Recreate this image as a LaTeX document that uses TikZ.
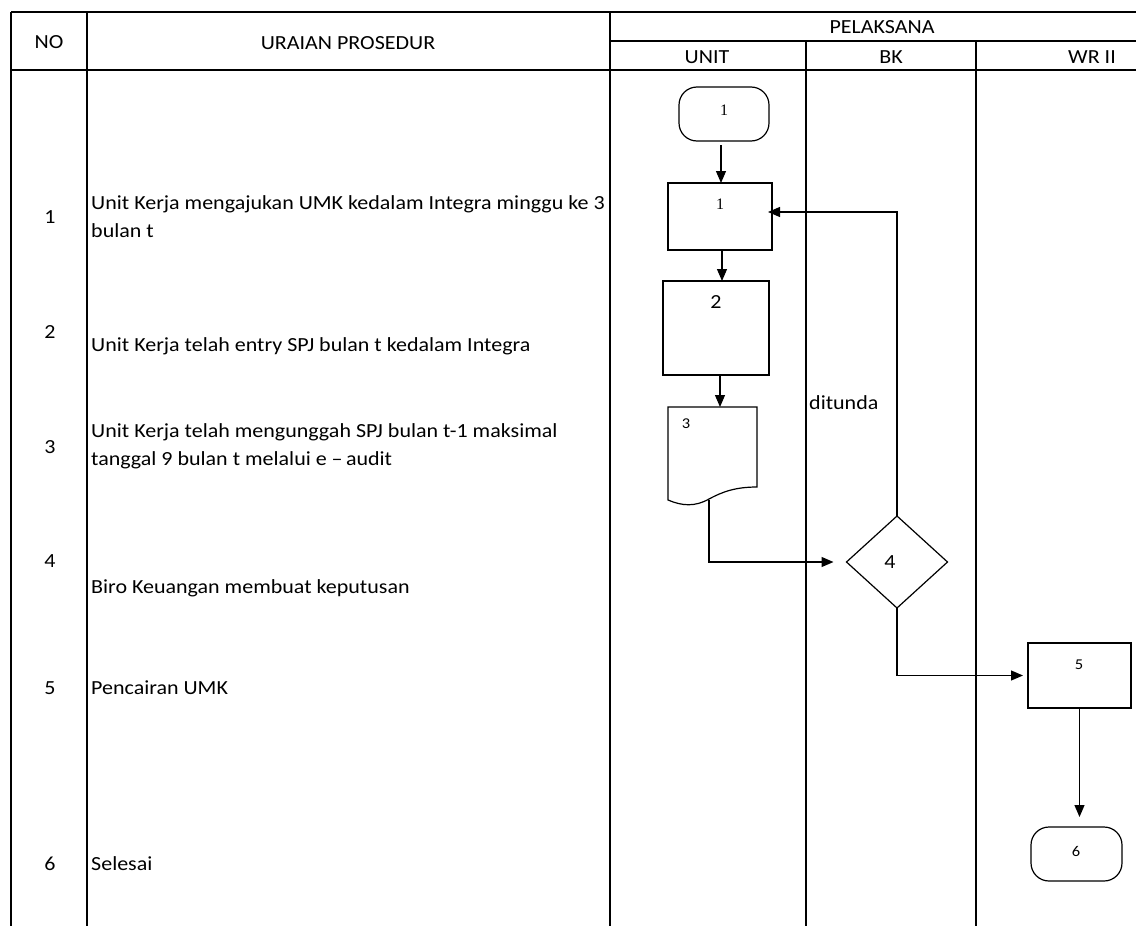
\documentclass[tikz,border=0pt]{standalone}
\usepackage{fontspec}
\setmainfont{Carlito}[FakeStretch=1.1]
\newfontfamily\numserif{Liberation Serif}
\usetikzlibrary{arrows.meta,shapes.geometric,calc}

\begin{document}
\begin{tikzpicture}[x=1pt,y=-1pt,
  grid/.style={line width=2pt,black},
  shp/.style={draw,line width=1.2pt,inner sep=0pt,outer sep=0pt},
  box/.style={shp,rectangle},
  term/.style={shp,rectangle,rounded corners=18pt},
  dec/.style={shp,diamond},
  flow/.style={line width=1.2pt,-{Triangle[length=12pt,width=10pt]}},
  txt/.style={inner sep=0pt,font=\fontsize{20}{28}\selectfont},
  rowtxt/.style={txt,anchor=west,align=left},
  small/.style={inner sep=0pt,font=\fontsize{15}{17}\selectfont},
  smallserif/.style={inner sep=0pt,font=\numserif\fontsize{16}{18}\selectfont}
]
\useasboundingbox (0,0) rectangle (1136,926);

% table frame
\draw[grid] (11,12) -- (1136,12);
\draw[grid] (610,41) -- (1136,41);
\draw[grid] (11,70) -- (1136,70);
\draw[grid] (11,12) -- (11,926);
\draw[grid] (87,12) -- (87,926);
\draw[grid] (610,12) -- (610,926);
\draw[grid] (806,41) -- (806,926);
\draw[grid] (976,41) -- (976,926);

% header
\node[txt] (hno) at (49,42) {NO};
\node[txt] (hur) at (348,43) {URAIAN PROSEDUR};
\node[txt] (hpel) at (882,27) {PELAKSANA};
\node[txt] (hunit) at (707,57) {UNIT};
\node[txt] (hbk) at (891,57) {BK};
\node[txt] (hwr) at (1092,57) {WR II};

% step numbers
\node[txt] (n1) at (50,217) {1};
\node[txt] (n2) at (50,332) {2};
\node[txt] (n3) at (50,447) {3};
\node[txt] (n4) at (50,561) {4};
\node[txt] (n5) at (50,688) {5};
\node[txt] (n6) at (50,864) {6};

% procedure descriptions
\node[rowtxt] (r1) at (91,217) {Unit Kerja mengajukan UMK kedalam Integra minggu ke 3\\bulan t};
\node[rowtxt] (r2) at (91,346) {Unit Kerja telah entry SPJ bulan t kedalam Integra};
\node[rowtxt] (r3) at (91,446) {Unit Kerja telah mengunggah SPJ bulan t-1 maksimal\\tanggal 9 bulan t melalui e --\,audit};
\node[rowtxt] (r4) at (91,588) {Biro Keuangan membuat keputusan};
\node[rowtxt] (r5) at (91,688) {Pencairan UMK};
\node[rowtxt] (r6) at (91,864) {Selesai};

% flow shapes
\node[term,minimum width=90pt,minimum height=54pt] (t1) at (724,114) {};
\node[smallserif] (t1l) at (724,110) {1};
\node[box,minimum width=104pt,minimum height=67pt] (b1) at (720,216.5) {};
\node[smallserif] (b1l) at (720,204) {1};
\node[box,minimum width=106pt,minimum height=94pt] (b2) at (716,328) {};
\node[txt] (b2l) at (716,302) {2};
% document symbol
\draw[line width=1.2pt] (668,500) -- (668,407) -- (757,407) -- (757,487)
  .. controls (735,487) and (722,492) .. (709,499)
  .. controls (695,507) and (682,506) .. (668,500) -- cycle;
\coordinate (d3top) at (720,407);
\coordinate (d3bot) at (709,500);
\node[small] (d3l) at (686,424) {3};
\node[dec,minimum width=101pt,minimum height=92pt] (d4) at (897,562) {};
\node[txt] (d4l) at (890,562) {4};
\node[box,minimum width=103pt,minimum height=65pt] (b5) at (1079.5,675.5) {};
\node[small] (b5l) at (1079,665) {5};
\node[term,minimum width=91pt,minimum height=54pt] (t6) at (1076.5,854) {};
\node[small] (t6l) at (1076,851) {6};

\node[txt,anchor=west] (dit) at (809,403) {ditunda};

% connectors
\draw[flow] (t1.south) ++(-3,4) coordinate (a1) -- (a1 |- b1.north);
\draw[flow] (b1.south) ++(2,0) coordinate (a2) -- (a2 |- b2.north);
\draw[flow] (b2.south) ++(4,0) coordinate (a3) -- (a3 |- d3top);
\draw[flow,shorten >=13pt] (d3bot) |- (d4.west);
\draw[flow] (d4.north) |- ([yshift=4.5pt,xshift=-4pt]b1.east);
\draw[flow,shorten >=5pt] (d4.south) |- (b5.west);
\draw[flow,shorten >=10pt] (b5.south) -- (b5.south |- t6.north);
\end{tikzpicture}
\end{document}
